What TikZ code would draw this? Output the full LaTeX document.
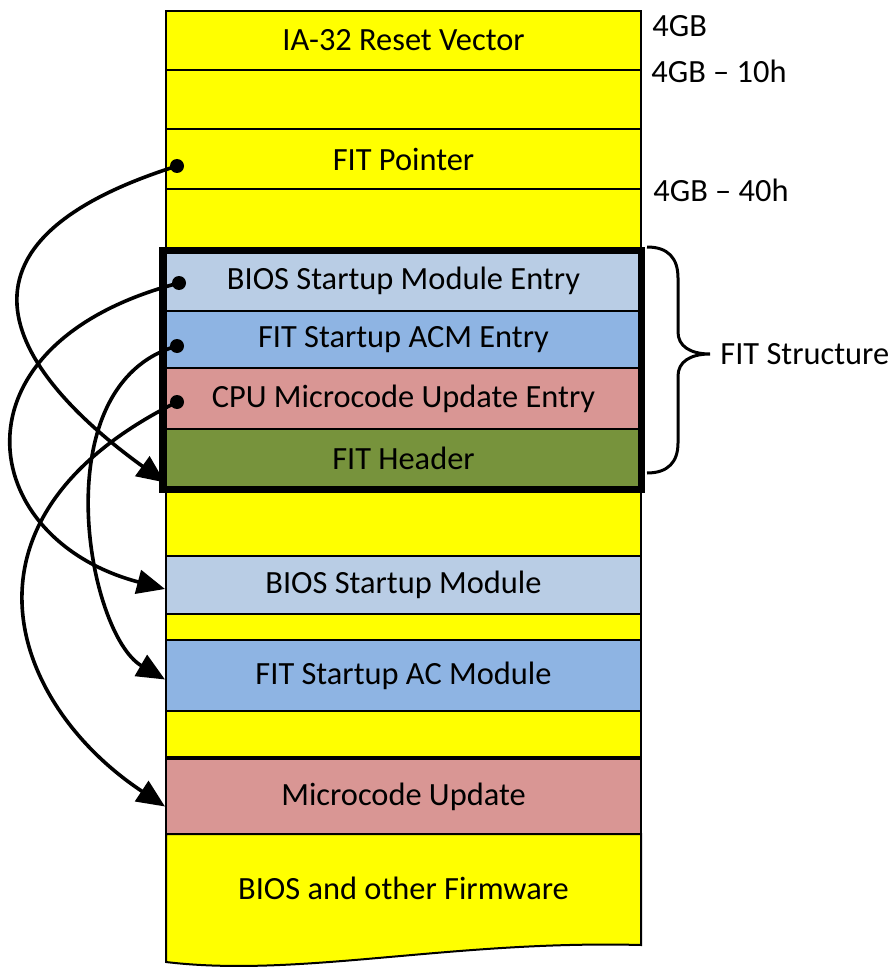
\documentclass[tikz,border=0pt]{standalone}
\usepackage{fontspec}
\setmainfont{Carlito}
\usetikzlibrary{arrows.meta}
\definecolor{memyellow}{HTML}{FFFF00}
\definecolor{entryblue}{HTML}{B9CDE5}
\definecolor{acmblue}{HTML}{8EB4E3}
\definecolor{ucodered}{HTML}{D99694}
\definecolor{hdrgreen}{HTML}{77933C}
\tikzset{
  region/.style={draw,line width=1pt,minimum width=237.5pt,inner sep=0pt,
    font=\fontsize{16.2}{19}\selectfont},
  ptr/.style={circle,fill,inner sep=0pt,minimum size=7pt},
  jump/.style={line width=1.8pt,-{Triangle[length=14pt,width=12pt]}},
  addr/.style={anchor=west,inner sep=0pt,font=\fontsize{16.2}{19}\selectfont}
}

\begin{document}
\begin{tikzpicture}[x=0.5pt,y=-0.5pt]
\useasboundingbox (0,0) rectangle (895,968);
% Draw firmware region with torn bottom
\draw[line width=1pt,fill=memyellow] (166,834) -- (166,962)
  .. controls (300,978) and (450,940) .. (641,945) -- (641,834) -- cycle;
% Draw memory regions
\foreach \nm/\ya/\yb/\col/\txt in {
    rv/11/70/memyellow/IA-32 Reset Vector,
    gapa/70/129/memyellow/,
    fp/129/189/memyellow/FIT Pointer,
    gapb/189/251/memyellow/,
    bse/251/311/entryblue/BIOS Startup Module Entry,
    ace/311/368/acmblue/FIT Startup ACM Entry,
    cpe/368/429/ucodered/CPU Microcode Update Entry,
    hdr/429/488/hdrgreen/FIT Header,
    gapc/488/556/memyellow/,
    bsm/556/614/entryblue/BIOS Startup Module,
    gapd/614/640/memyellow/,
    acm/640/711/acmblue/FIT Startup AC Module,
    gape/711/759/memyellow/,
    mcu/759/834/ucodered/Microcode Update} {
  \node[region,fill=\col,minimum height={(\yb-\ya)*0.5pt}]
    (\nm) at (403.5,{(\ya+\yb)/2}) {\txt};
}
\node[font=\fontsize{16.2}{19}\selectfont] (fw) at (403.5,888) {BIOS and other Firmware};
\draw[line width=2pt] (mcu.north west) -- (mcu.north east);
% Draw FIT structure frame
\draw[line width=3.5pt] ([xshift=-1.5pt]bse.north west) rectangle ([xshift=-0.5pt]hdr.south east);
% Draw brace
\draw[line width=1.5pt] (647,247) .. controls (668,247) and (678,258) .. (678,278)
  -- (678,332) .. controls (678,346) and (690,354) .. (710,354)
  .. controls (690,354) and (678,362) .. (678,376)
  -- (678,443) .. controls (678,462) and (668,473) .. (647,473);
\node[addr] (fs) at (720,354) {FIT Structure};
% Addresses
\node[addr] (a4g) at (652,26) {4GB};
\node[addr] (a10) at (651,71) {4GB -- 10h};
\node[addr] (a40) at (653,190) {4GB -- 40h};
% Pointers
\node[ptr] (pfp) at (177,166) {};
\node[ptr] (pbse) at (179,283) {};
\node[ptr] (pace) at (177,346) {};
\node[ptr] (pcpe) at (177,402) {};
\draw[jump] (pfp.center) .. controls (-96,252) and (41,393) .. ([yshift=-12pt]hdr.west);
\draw[jump] (pbse.center) .. controls (-55,344) and (-25,539) .. ([yshift=-2pt]bsm.west);
\draw[jump] (pace.center) .. controls (42,384) and (87,634) .. ([yshift=-2pt]acm.west);
\draw[jump] (pcpe.center) .. controls (-60,520) and (13,706) .. ([yshift=-5pt]mcu.west);
\end{tikzpicture}
\end{document}
